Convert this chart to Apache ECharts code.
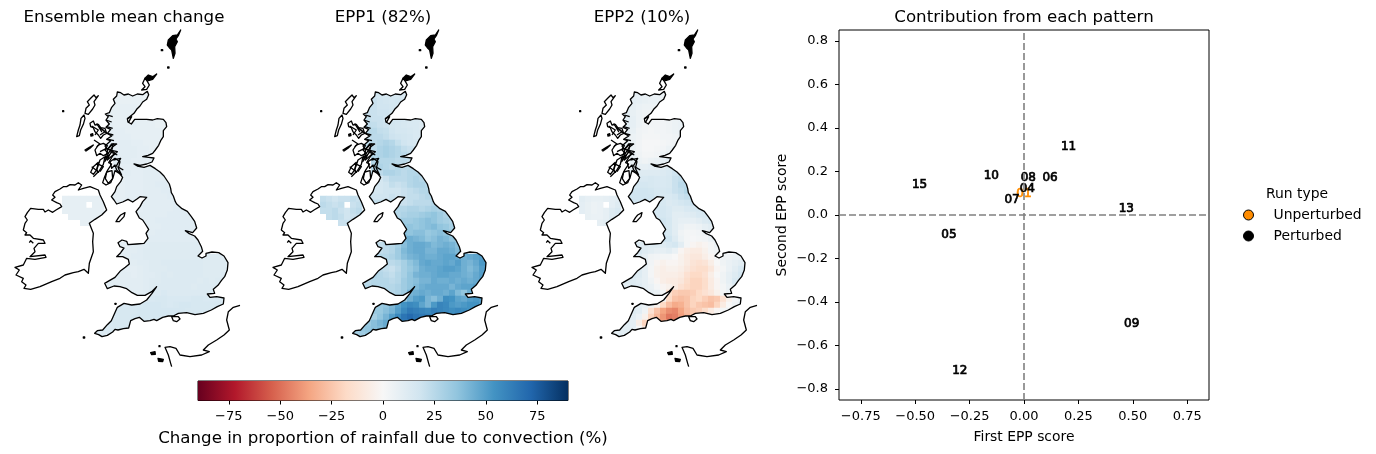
<!DOCTYPE html>
<html><head><meta charset="utf-8">
<style>html,body{margin:0;padding:0;background:#fff}#c{width:1376px;height:454px}</style>
<script src="https://cdn.jsdelivr.net/npm/echarts@6/dist/echarts.min.js"></script>
</head><body><div id="c"></div>
<script>
// Scatter values
const perturbedIds=['15','10','08','04','06','07','11','13','05','09','12'];
const perturbedX=[-0.48,-0.15,0.02,0.015,0.12,-0.055,0.205,0.47,-0.345,0.495,-0.295];
const perturbedY=[0.138,0.18,0.17,0.12,0.17,0.07,0.313,0.028,-0.092,-0.498,-0.714];
const unperturbedIds=['01'];
const unperturbedX=[0.0];
const unperturbedY=[0.095];
const panelTitles=['Ensemble mean change','EPP1 (82%)','EPP2 (10%)'];
const rdbu=['#67001f','#b2182b','#d6604d','#f4a582','#fddbc7','#f7f7f7','#d1e5f0','#92c5de','#4393c3','#2166ac','#053061'];
const cbarTicks=[-75,-50,-25,0,25,50,75];
const scoreTicksX=[-0.75,-0.5,-0.25,0,0.25,0.5,0.75];
const scoreTicksY=[-0.8,-0.6,-0.4,-0.2,0,0.2,0.4,0.6,0.8];

// Coastlines, flat x,y lists in map units
const coastGB=[352,216,362,218,372,225,385,222,398,228,412,222,428,224,442,214,446,224,440,238,428,246,420,258,410,268,402,280,392,288,382,296,384,306,394,312,404,298,420,298,440,298,458,300,472,296,490,298,498,308,500,320,490,332,490,350,482,362,476,376,466,390,458,400,444,406,428,410,446,412,462,414,456,426,440,432,420,436,402,432,412,438,432,442,450,436,466,446,480,456,492,468,500,480,508,492,512,505,514,518,520,528,526,545,530,552,546,566,562,574,574,590,584,604,590,624,578,638,556,632,566,640,584,648,594,660,604,680,608,694,594,708,606,714,618,708,618,700,636,696,656,698,672,708,684,728,682,750,674,770,664,782,654,796,640,808,644,820,622,822,630,832,650,830,672,834,670,852,652,860,634,870,610,880,585,884,560,878,535,880,520,888,505,888,488,892,470,902,462,898,450,902,432,904,418,892,405,896,392,902,386,924,370,926,354,930,345,928,338,936,322,946,306,950,296,944,284,940,292,932,308,930,322,914,334,902,342,884,352,862,372,850,395,855,420,852,440,840,456,820,470,800,455,815,435,826,412,826,396,818,380,806,360,800,342,798,322,806,314,790,328,782,345,772,362,752,376,742,388,732,385,718,368,710,350,710,362,698,372,684,360,680,354,668,366,660,380,664,384,674,410,672,432,670,444,655,438,640,446,628,436,612,428,600,418,594,408,575,420,560,428,545,440,532,420,530,412,536,398,546,384,538,368,546,350,552,342,540,334,530,345,515,350,500,362,485,368,472,358,460,345,452,340,470,332,488,318,495,308,488,314,470,322,452,335,432,326,428,338,408,352,395,338,392,326,408,314,425,325,400,338,380,350,372,335,372,322,390,315,378,332,362,320,358,335,348,322,340,332,328,318,322,328,312,318,300,325,290,316,282,328,278,335,262,345,250,340,238,350,228,352,216];
const coastIreland=[235,488,225,495,210,494,200,500,190,500,180,507,165,515,158,525,165,532,155,540,170,548,180,552,185,560,168,570,158,577,145,570,135,576,130,568,115,568,92,565,82,578,75,590,82,600,75,610,70,630,80,638,75,645,90,645,100,655,130,660,135,670,115,670,102,685,105,695,90,710,135,705,138,712,105,718,80,715,70,735,45,742,58,750,48,765,70,775,65,785,78,795,72,805,92,808,120,800,155,785,180,775,195,765,220,758,235,755,252,748,265,760,268,730,280,695,278,665,280,640,268,610,285,598,305,585,320,570,310,545,300,525,295,510,270,500,250,505,235,510,245,495,235,488];
const coastShetland=[542,30,532,45,518,47,505,60,502,75,508,83,515,90,520,115,525,100,524,80,532,65,528,57,535,47,542,30];
const coastOrkneyN=[470,162,458,170,445,165,435,175,445,182,458,178,470,162];
const coastOrkneyS=[435,175,428,190,435,200,425,210,440,208,448,195,442,184,435,175];
const coastLewis=[295,227,288,233,282,225,272,235,262,245,268,255,258,265,255,280,265,283,278,267,285,255,282,245,295,227];
const coastUist=[252,285,243,295,240,315,235,330,230,350,238,347,242,330,250,313,255,295,252,285];
const coastSkye=[270,310,280,303,285,315,295,313,302,323,315,325,320,340,310,345,302,355,295,345,285,335,280,323,272,320,270,310];
const coastSmall1=[272,343,278,341,279,347,273,348,272,343];
const coastColl=[255,390,268,382,280,375,270,385,258,393,255,390];
const coastMull=[285,390,295,375,310,370,322,377,315,390,325,400,310,407,300,400,290,407,285,390];
const coastIslay=[272,457,280,440,295,427,290,450,280,463,272,457];
const coastJura=[300,420,315,410,310,433,295,457,290,450,300,420];
const coastLoch1=[325,385,340,372,335,392,345,400,322,420,328,405,315,415,325,385];
const coastLoch2=[330,425,345,415,360,425,355,445,365,465,350,450,345,435,335,445,330,425];
const coastArran=[320,456,336,452,338,476,325,490,316,476,320,456];
const coastMan=[348,605,356,592,362,585,375,578,372,590,358,605,348,605];
const coastWight=[515,890,535,890,540,897,530,905,520,902,515,890];
const coastJersey=[474,1015,490,1018,488,1025,476,1024,474,1015];
const coastGuernsey=[452,998,465,995,466,1003,455,1004,452,998];
const dotStKilda=[188,272,191,272,191,275,188,275,188,272];
const dotFoula=[484,89,488,89,488,92,484,92,484,89];
const dotFair=[503,141,507,141,507,144,503,144,503,141];
const dotScilly=[250,951,254,951,254,954,250,954,250,951];
const dotLundy=[345,850,348,850,348,853,345,853,345,850];
const dotChannel=[477,977,480,977,480,980,477,980,477,977];
const coastFrance=[720,856,700,862,685,875,680,900,688,930,672,945,650,960,625,975,610,990,628,995,605,1005,570,1010,540,1005,528,985,510,980,495,982,505,1005,512,1030,515,1040];
const inlet1=[290,310,305,335,298,320,318,338];
const inlet2=[275,318,295,330,285,345];
const inlet3=[300,345,315,335,306,328];
const inlet4=[322,285,338,290];
const inlet5=[318,300,335,306];
const inlet6=[320,320,338,325];
const inlet7=[322,340,340,345];
const inlet8=[325,358,342,362];
const inlet9=[300,395,320,385,340,395];
const inlet10=[290,430,310,440,300,455];
const inlet11=[330,395,352,405];
const inlet12=[340,420,362,415,348,440];
const inlet13=[352,440,370,450];
const inlet14=[275,440,295,455,280,470];
const inlet15=[282,360,300,372,290,380];
const inlet16=[382,296,395,290,385,308];
const inlet17=[100,670,92,662,88,668];
const closedCoasts=[coastGB,coastIreland,coastOrkneyS,coastLewis,coastUist,coastSkye,coastColl,coastMull,coastIslay,coastJura,coastLoch1,coastLoch2,coastArran,coastMan,coastWight];
const solidCoasts=[coastShetland,coastOrkneyN,coastSmall1,coastJersey,coastGuernsey,dotStKilda,dotFoula,dotFair,dotScilly,dotLundy,dotChannel];
const openCoasts=[coastFrance,inlet1,inlet2,inlet3,inlet4,inlet5,inlet6,inlet7,inlet8,inlet9,inlet10,inlet11,inlet12,inlet13,inlet14,inlet15,inlet16,inlet17];

// Field: one list per grid row, first column of each row in rowStart
const rowStart=[3,3,2,2,2,2,2,2,2,2,3,3,3,3,3,3,2,2,3,7,7,7,8,8,8,4,3,3,4,4,3,2,1,3,6,4,3,3,1,0,0];
const meanRows=[
[6,6,7,7,6,6],[7,7,7,7,7,6],[8,7,8,8,8,7],[8,8,8,8,8],
[8,8,8,8,8,8,8,8,7,7],[9,8,8,8,9,8,8,8,7,7,7],[9,9,9,8,8,8,8,8,8,7],[8,9,9,9,8,8,8,8,8,7],[9,9,10,10,9,9,8,8,8,7],
[9,9,10,10,10,9,9,8,8],[10,10,10,10,9,9,9,9],[10,10,10,9,9,9,9],[9,9,9,9,9,9,10,9],[8,9,10,9,9,10,10,10,10],
[8,8,9,9,9,10,10,10,10,10],[8,8,9,9,9,10,10,11,11,10],[8,8,8,9,9,9,10,10,10,11,11,10],[8,8,8,9,9,9,10,10,10,10,11,11],[9,9,9,9,9,10,10,10,10,10,11,11],
[9,10,10,10,10,10,11,11,10],[10,10,10,10,10,11,11,11,11,10],[10,10,10,11,11,11,11,11,11,11],[10,10,10,11,11,11,11,11,11,11],[10,10,11,11,11,11,11,11,11,11],[10,11,11,11,11,11,11,11,11,11,11],
[9,9,10,10,11,12,12,12,12,12,12,12,12,12,12],[10,9,10,10,11,12,12,12,12,12,12,12,12,12,12,12],[10,10,10,11,11,12,12,12,12,12,12,12,12,12,12,12,12,12,12,12],[10,10,10,11,11,12,12,13,13,13,13,13,13,13,12,12,12,12,12],[10,9,9,10,11,12,12,12,13,13,13,13,13,13,12,12,12,12,12],
[11,10,10,9,10,11,11,12,13,12,13,13,13,13,13,12,12,12,13,13],[10,10,10,10,10,10,11,12,12,13,13,13,13,13,13,12,13,12,13,13],[10,10,10,10,10,10,10,11,12,13,13,13,13,13,13,12,13,13,13,13,13],[10,10,10,10,10,11,13,13,14,13,13,13,13,13,13,13,13,13],
[12,12,13,14,15,15,14,14,14,14,15,15,14,14,14,14],[14,14,14,15,16,16,16,15,14,15,16,16,15,15,15,15,15,15],[14,15,15,15,16,16,16,16,16,16,16,16,15,15,15,15,15,15],[14,15,15,16,16,16,16,16,16,15,15,15,15,15,15,14],[14,14,15,15,15,15,16,16,16,16],[13,14,14,15,15,15],[13,13,14,14]];
const epp1Rows=[
[18,17,16,16,15,14],[20,18,17,16,17,16],[22,20,18,18,17,16],[20,20,19,19,17],
[21,20,20,18,17,17,16,15,14,14],[23,22,20,19,17,16,15,14,14,13,13],[25,25,22,21,18,16,16,15,14,13],[22,24,24,22,19,18,17,16,14,14],[24,24,26,28,26,21,18,16,15,14],
[22,24,28,30,28,26,22,20,18],[26,28,30,28,26,24,22,20],[27,26,26,26,24,24,22],[26,28,26,24,26,24,24,22],[22,24,28,28,26,24,26,26,24],
[18,16,20,24,24,24,26,28,26,24],[16,16,18,22,20,22,26,28,28,26],[16,16,16,18,18,18,20,22,24,26,26,24],[18,18,18,18,20,18,20,22,22,24,26,26],[22,22,22,22,20,20,22,24,24,24,26,26],
[26,26,28,28,26,28,30,28,26],[26,28,30,30,32,34,36,32,28,26],[30,32,32,34,36,38,36,32,30,28],[34,36,34,36,38,40,36,34,30,30],[38,36,38,38,34,36,38,36,34,32],[42,44,42,40,36,38,42,40,36,34,32],
[22,24,26,30,38,44,46,46,44,40,42,44,42,38,36],[22,22,24,26,32,40,44,46,46,42,42,46,46,44,40,36],[26,26,26,28,32,38,42,44,46,44,44,46,48,48,46,44,46,48,50,52],[24,24,24,26,30,36,40,46,48,46,46,48,46,50,44,42,46,52,54],[24,22,20,24,30,34,38,44,46,46,48,50,50,48,44,40,44,50,54],
[28,26,24,22,26,30,36,42,44,44,46,48,48,46,46,44,42,46,50,52],[24,26,26,26,24,26,32,36,38,42,42,46,44,44,46,44,46,44,46,50],[26,26,26,26,26,26,28,32,36,40,44,46,46,46,46,42,46,48,48,50,52],[26,24,24,26,28,32,42,44,46,44,46,46,44,48,40,36,44,50],
[28,30,36,44,50,52,42,38,44,56,54,48,46,50,52,50],[34,36,40,48,54,58,56,48,42,52,60,58,52,50,52,54,54,50],[34,34,38,42,50,58,64,62,60,58,62,60,58,56,58,56,54,54],[30,36,42,50,58,66,70,66,64,62,60,62,60,58,58,56],[30,34,38,42,46,50,56,60,62,58],[30,34,36,38,40,44],[30,32,34,36]];
const epp2Rows=[
[8,8,7,6,6,5],[9,8,7,6,6,5],[10,8,6,5,5,5],[10,7,5,4,4],
[10,8,5,4,3,3,3,4,5,6],[10,8,5,3,3,3,3,4,5,6,6],[9,7,4,3,2,3,3,4,5,6],[7,5,4,2,2,2,3,3,4,5],[7,5,3,1,1,1,2,3,4,5],
[7,5,3,1,1,2,3,5,6],[6,4,2,2,3,5,7,9],[6,5,4,5,6,8,10],[8,8,8,9,9,10,12,14],[10,12,12,12,12,13,14,18,18],
[12,14,14,15,14,14,15,20,22,20],[16,16,16,15,14,14,15,20,24,24],[18,18,18,18,17,15,15,16,20,22,26,24],[18,18,18,18,18,15,14,14,16,20,22,24],[18,18,18,16,16,15,13,14,16,18,20,20],
[16,16,14,12,12,14,15,16,16],[16,16,14,10,10,11,12,14,15,14],[16,18,15,10,8,8,8,10,13,14],[16,15,10,6,4,4,5,8,10,12],[18,15,10,4,2,2,3,5,8,10],[20,18,12,5,2,1,2,3,6,8,10],
[12,12,12,12,12,14,16,10,2,-2,-4,-2,2,6,8],[14,14,12,10,8,8,10,6,-2,-6,-8,-8,-4,2,4,6],[14,12,8,4,3,2,2,0,-4,-8,-10,-10,-6,-2,2,4,4,5,6,8],[12,8,3,-2,-4,-2,-2,-4,-8,-12,-14,-12,-6,0,4,6,8,10,10],[12,8,2,-4,-6,-4,-4,-6,-10,-14,-16,-16,-10,-2,2,6,10,14,14],
[14,12,8,2,-4,-6,-6,-6,-8,-14,-18,-18,-14,-6,0,4,8,12,16,16],[12,12,10,8,4,-2,-6,-8,-8,-10,-16,-20,-20,-16,-8,-2,4,8,14,16],[10,10,12,12,8,6,2,-2,-4,-8,-14,-18,-20,-20,-16,-8,-2,2,6,10,12],[12,12,10,8,6,2,-16,-22,-24,-24,-22,-18,-14,-10,-4,2,6,10],
[10,8,2,-18,-26,-28,-26,-20,-18,-22,-26,-24,-14,-4,2,6],[8,6,4,-4,-18,-28,-34,-32,-26,-20,-24,-26,-28,-20,-8,0,4,6],[12,10,4,-14,-26,-36,-42,-44,-36,-28,-24,-22,-16,-8,-2,2,4,5],[10,6,-4,-20,-30,-40,-48,-46,-38,-30,-24,-18,-12,-8,-4,0],[10,10,8,-6,-20,-28,-30,-34,-34,-30],[8,10,10,8,0,-10],[8,10,10,10]];
// Northern Ireland rows
const niStart=[0,0,0,1,3];
const niMean=[[8,8,8,8,8,8,8],[8,8,8,8,null,8,8],[8,8,8,8,8,8,8],[8,8,8,8,8,8],[8,8]];
const niEpp1=[[22,20,18,20,20,22,20],[24,22,20,22,null,20,22],[22,22,24,20,18,22,24],[22,24,22,18,20,22],[20,20]];
const niEpp2=[[10,8,7,7,8,9,10],[9,7,5,6,null,9,12],[9,7,5,6,8,12,14],[7,6,6,8,12,12],[8,10]];

const cellU=18, gbX=285, gbY=215, niX=186, niY=527;
function flatten(rows,starts,ox,oy){const out=[];rows.forEach((r,i)=>r.forEach((v,j)=>{if(v!==null)out.push([ox+(starts[i]+j)*cellU,oy+i*cellU,v]);}));return out;}
function pts(a,api){const p=[];for(let i=0;i<a.length;i+=2)p.push(api.coord([a[i],a[i+1]]));return p;}
function heatSeries(g,rows,starts,ox,oy,clipCoast){return{type:'custom',xAxisIndex:g,yAxisIndex:g,coordinateSystem:'cartesian2d',data:flatten(rows,starts,ox,oy),encode:{x:0,y:1},dimensions:['x','y','v'],silent:true,clip:false,z:1,
 renderItem(params,api){const a=api.coord([api.value(0),api.value(1)]),b=api.coord([api.value(0)+cellU,api.value(1)+cellU]);
  return{type:'rect',shape:{x:a[0],y:a[1],width:b[0]-a[0]+0.4,height:b[1]-a[1]+0.4},style:{fill:api.visual('color')},clipPath:{type:'polygon',shape:{points:pts(clipCoast,api)}}};}};}
function coastSeries(g,list,closed,solid){return{type:'custom',xAxisIndex:g,yAxisIndex:g,coordinateSystem:'cartesian2d',data:list.map((_,i)=>[i,0]),encode:{x:0,y:1},silent:true,clip:false,z:3,
 renderItem(params,api){const f=list[api.value(0)];return{type:closed?'polygon':'polyline',shape:{points:pts(f,api)},style:{fill:solid?'#000':null,stroke:'#000',lineWidth:1.3,lineJoin:'round'}};}};}

const mapGrids=[{left:0,top:20,width:260,height:350},{left:258,top:20,width:260,height:350},{left:517,top:20,width:260,height:350}];
const series=[];
const fields=[[meanRows,niMean],[epp1Rows,niEpp1],[epp2Rows,niEpp2]];
fields.forEach((f,g)=>{series.push(heatSeries(g,f[0],rowStart,gbX,gbY,coastGB));series.push(heatSeries(g,f[1],niStart,niX,niY,coastIreland));});
const heatIdx=[0,1,2,3,4,5];
[0,1,2].forEach(g=>{series.push(coastSeries(g,closedCoasts,true,false));series.push(coastSeries(g,solidCoasts,true,true));series.push(coastSeries(g,openCoasts,false,false));});
// colourbar
series.push({type:'custom',xAxisIndex:3,yAxisIndex:3,coordinateSystem:'cartesian2d',data:[[-90,0,90,1]],silent:true,
 renderItem(params,api){const a=api.coord([api.value(0),api.value(3)]),b=api.coord([api.value(2),api.value(1)]);
  return{type:'rect',shape:{x:a[0],y:a[1],width:b[0]-a[0],height:b[1]-a[1]},style:{fill:new echarts.graphic.LinearGradient(0,0,1,0,rdbu.map((c,i)=>({offset:i/(rdbu.length-1),color:c})))}};}});
const labelFont={fontFamily:'DejaVu Sans',fontSize:13.9,color:'#000'};
const tickFont={fontFamily:'DejaVu Sans',fontSize:13,color:'#000'};
function scoreSeries(name,ids,xs,ys,col,extra){return Object.assign({name,type:'scatter',xAxisIndex:4,yAxisIndex:4,symbol:'circle',symbolSize:0.01,itemStyle:{color:col,opacity:1},silent:true,
 data:ids.map((id,i)=>({name:id,value:[xs[i],ys[i]]})),
 label:{show:true,position:'inside',formatter:p=>p.name,fontFamily:'DejaVu Sans',fontSize:12,fontWeight:'normal',color:col,opacity:1,textBorderColor:col,textBorderWidth:0.7}},extra||{});}
series.push(scoreSeries('Unperturbed',unperturbedIds,unperturbedX,unperturbedY,'#ff8c00',{markLine:{silent:true,symbol:'none',animation:false,label:{show:false},lineStyle:{color:'#808080',type:[7,3],width:1.6,opacity:1},data:[{xAxis:0},{yAxis:0}]}}));
series.push(scoreSeries('Perturbed',perturbedIds,perturbedX,perturbedY,'#000'));

const hiddenX=mapGrids.map((_,i)=>({type:'value',gridIndex:i,min:0,max:780,show:false}));
const hiddenY=mapGrids.map((_,i)=>({type:'value',gridIndex:i,min:0,max:1050,inverse:true,show:false}));
const minus=s=>s.replace('-','\u2212');
const tick={show:true,length:4,lineStyle:{color:'#000',width:1}};
const titleStyle={fontFamily:'DejaVu Sans',fontSize:16.67,fontWeight:'normal',color:'#000'};
const noLine={show:false,onZero:false};
const option={animation:false,backgroundColor:'#fff',
 title:[...panelTitles.map((t,i)=>({text:t,left:[119,378,637][i],top:4,textAlign:'center',textStyle:titleStyle})),
  {text:'Contribution from each pattern',left:1019,top:4,textAlign:'center',textStyle:titleStyle},
  {text:'Run type',left:1261,top:182,textStyle:{fontFamily:'DejaVu Sans',fontSize:13.9,fontWeight:'normal',color:'#000'}}],
 visualMap:{show:false,type:'continuous',min:-90,max:90,dimension:2,seriesIndex:heatIdx,inRange:{color:rdbu}},
 legend:{orient:'vertical',left:1238,top:203,itemWidth:40,itemHeight:10,itemGap:7,selectedMode:false,textStyle:labelFont,
  data:[{name:'Unperturbed',icon:'circle',itemStyle:{color:'#ff8c00',borderColor:'#000',borderWidth:1}},{name:'Perturbed',icon:'circle',itemStyle:{color:'#000',borderColor:'#000',borderWidth:1}}]},
 grid:[...mapGrids,{left:198,top:381,width:370,height:19.5,show:true,borderColor:'#000',borderWidth:1,backgroundColor:'transparent'},{left:839,top:30,width:370,height:370,show:true,borderColor:'#000',borderWidth:1,backgroundColor:'transparent'}],
 xAxis:[...hiddenX,
  {type:'value',gridIndex:3,min:-90,max:90,splitLine:{show:false},axisLine:noLine,axisTick:Object.assign({},tick,{customValues:cbarTicks}),axisLabel:Object.assign({},tickFont,{customValues:cbarTicks,margin:10,formatter:v=>minus(String(v))}),name:'Change in proportion of rainfall due to convection (%)',nameLocation:'middle',nameGap:30,nameTextStyle:{fontFamily:'DejaVu Sans',fontSize:16.67,color:'#000'}},
  {type:'value',gridIndex:4,min:-0.85,max:0.85,splitLine:{show:false},axisLine:noLine,axisTick:Object.assign({},tick,{customValues:scoreTicksX}),axisLabel:Object.assign({},tickFont,{customValues:scoreTicksX,margin:10,formatter:v=>minus(v.toFixed(2))}),name:'First EPP score',nameLocation:'middle',nameGap:30,nameTextStyle:labelFont}],
 yAxis:[...hiddenY,
  {type:'value',gridIndex:3,min:0,max:1,show:false},
  {type:'value',gridIndex:4,min:-0.85,max:0.85,splitLine:{show:false},axisLine:noLine,axisTick:Object.assign({},tick,{customValues:scoreTicksY}),axisLabel:Object.assign({},tickFont,{customValues:scoreTicksY,margin:11,formatter:v=>minus(v.toFixed(1))}),name:'Second EPP score',nameLocation:'middle',nameGap:50,nameTextStyle:labelFont}],
 series};
const chart=echarts.init(document.getElementById('c'),null,{renderer:'canvas'});
chart.setOption(option);
</script></body></html>
